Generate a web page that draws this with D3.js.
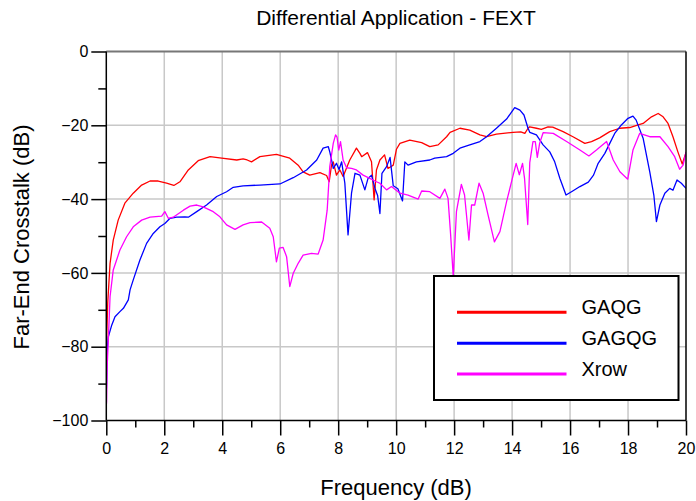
<!DOCTYPE html>
<html>
<head>
<meta charset="utf-8">
<script src="https://cdn.jsdelivr.net/npm/d3@7"></script>
<style>
  html, body { margin: 0; padding: 0; background: #fff; }
  svg { display: block; font-family: "Liberation Sans", Arial, sans-serif; }
</style>
</head>
<body>
<svg id="chart" width="696" height="501"></svg>
<script>
// [frequency, dB]
const gaqg = [
  [0, -86], [0.02, -76], [0.05, -68], [0.13, -57.4], [0.24, -51.1], [0.41, -45.7], [0.64, -41.1],
  [0.93, -38.4], [1.22, -36.2], [1.51, -35.1], [1.79, -35.1], [2.08, -35.7], [2.33, -36.3],
  [2.54, -35.3], [2.83, -32.1], [3.17, -29.6], [3.58, -28.5], [3.98, -28.9], [4.5, -29.4],
  [4.72, -29.1], [4.86, -29.4], [5.01, -29.9], [5.3, -28.5], [5.87, -27.9], [6.33, -28.9],
  [6.62, -30.8], [6.79, -32.6], [7.02, -33.5], [7.37, -32.8], [7.6, -33.6], [7.69, -35.3],
  [7.77, -30.8], [7.83, -29.9], [7.94, -33.5], [8.06, -32.1], [8.17, -33.9], [8.4, -29.4],
  [8.63, -26.2], [8.75, -27.6], [8.81, -28.5], [9.01, -27.4], [9.15, -29.9], [9.24, -40.2],
  [9.32, -32.1], [9.44, -29.4], [9.6, -28], [9.72, -31.7], [9.9, -30.8], [10.01, -26.5],
  [10.13, -24.9], [10.47, -24], [10.88, -24.7], [11.16, -25.8], [11.45, -25.3], [11.74, -23.1],
  [11.86, -21.9], [12.2, -20.8], [12.54, -21.3], [12.89, -22.6], [13.12, -23.1], [13.46, -22.4],
  [14.03, -21.9], [14.3, -21.8], [14.44, -22.2], [14.55, -20.8], [14.61, -20.4], [14.84, -20.8],
  [15.01, -21.1], [15.24, -20.4], [15.4, -20.5], [15.76, -21.7], [16.1, -23.1], [16.51, -24.9],
  [16.74, -24.4], [17.02, -23.4], [17.37, -21.7], [17.71, -20.8], [18.06, -20.6], [18.35, -19.9],
  [18.52, -19.5], [18.81, -17.7], [19.04, -16.8], [19.21, -17.7], [19.38, -19.5], [19.55, -23.1],
  [19.72, -27.2], [19.87, -30.5], [20, -27.4]
];

const gagqg = [
  [0, -92], [0.01, -89.9], [0.03, -80.9], [0.07, -77.3], [0.19, -74.1], [0.3, -71.9], [0.47, -70.5],
  [0.59, -69.6], [0.76, -67.3], [0.82, -64.6], [0.93, -61.9], [1.16, -56.5], [1.39, -52],
  [1.62, -49.3], [1.85, -47.5], [2.02, -46.6], [2.2, -45.2], [2.43, -44.9], [2.71, -44.8],
  [2.83, -44.9], [3.12, -43.4], [3.46, -41.6], [3.81, -39.3], [4.15, -38], [4.38, -36.8],
  [4.72, -36.4], [5.3, -36.2], [5.99, -35.9], [6.45, -34.2], [6.91, -32.1], [7.26, -29.4],
  [7.48, -26.2], [7.66, -25.8], [7.71, -27.2], [7.77, -29.4], [7.83, -31.7], [7.94, -30.3],
  [8.03, -32], [8.12, -29.9], [8.23, -35.7], [8.34, -49.7], [8.46, -38.4], [8.58, -33],
  [8.75, -33.5], [8.92, -37.5], [9.03, -34.4], [9.15, -33.5], [9.27, -37.1], [9.36, -39],
  [9.44, -43.9], [9.51, -33], [9.67, -31.2], [9.79, -28.7], [9.9, -36.4], [10.06, -37.2],
  [10.22, -40.5], [10.3, -29.9], [10.41, -30.8], [10.7, -29.9], [11.16, -29.4], [11.33, -28.9],
  [11.74, -28.5], [11.97, -27.6], [12.2, -26.2], [12.54, -25.3], [12.89, -24.4], [13.12, -23.1],
  [13.46, -20.8], [13.81, -18.3], [14.09, -15.2], [14.27, -15.9], [14.41, -17.2], [14.55, -20.8],
  [14.61, -21.9], [14.84, -22.6], [15.07, -25.3], [15.3, -27.2], [15.47, -29.9], [15.65, -34.4],
  [15.86, -38.9], [16.05, -38], [16.34, -36.6], [16.63, -35.4], [16.81, -33.5], [16.97, -30.3],
  [17.2, -27.6], [17.37, -24.9], [17.54, -22.2], [17.77, -19.9], [18.0, -18.1], [18.17, -17.5],
  [18.28, -18.6], [18.52, -23.5], [18.75, -32.6], [18.89, -38.9], [18.98, -46.1], [19.1, -41.6],
  [19.27, -38.4], [19.44, -37.1], [19.55, -37.6], [19.69, -34.8], [19.84, -35.7], [20, -37.1]
];

const xrow = [
  [0, -96], [0.01, -94.9], [0.03, -85.4], [0.07, -78.2], [0.13, -66.4], [0.24, -59.2],
  [0.47, -53.8], [0.7, -50.2], [0.93, -47.5], [1.22, -45.7], [1.51, -44.9], [1.91, -44.6],
  [2.02, -43.4], [2.14, -45.2], [2.31, -44.9], [2.66, -43], [2.89, -41.9], [3.12, -41.6],
  [3.34, -42.1], [3.69, -43.4], [3.92, -44.8], [4.15, -47], [4.44, -48.2], [4.72, -47],
  [4.96, -46.4], [5.36, -46.2], [5.64, -47.9], [5.76, -50.2], [5.87, -57], [5.97, -53.3],
  [6.1, -53.1], [6.22, -55.6], [6.33, -63.7], [6.45, -60.1], [6.62, -57.4], [6.79, -55.2],
  [7.08, -54.7], [7.31, -54.9], [7.48, -51.1], [7.62, -43], [7.71, -31.2], [7.83, -24.9],
  [7.91, -22.6], [7.96, -23.2], [8.02, -26.7], [8.08, -24.4], [8.17, -29.4], [8.29, -31.5],
  [8.46, -31.7], [8.63, -32.1], [8.86, -33.5], [9.09, -34.4], [9.32, -35.3], [9.44, -35.7],
  [9.67, -37.5], [9.84, -36.6], [10.13, -38.4], [10.41, -38.9], [10.76, -40], [10.88, -37.8],
  [11.16, -38], [11.51, -39.8], [11.68, -37.3], [11.79, -39.8], [11.88, -49.7], [11.97, -61],
  [12.08, -43.4], [12.25, -36], [12.36, -38.9], [12.51, -51.1], [12.6, -41.6], [12.71, -41.6],
  [12.86, -35.7], [13.0, -38.4], [13.17, -44.3], [13.39, -51.6], [13.58, -48.8], [13.81, -40.7],
  [14.03, -33.7], [14.14, -30.3], [14.25, -33.4], [14.36, -30.3], [14.43, -34.4], [14.54, -46.9],
  [14.61, -30.1], [14.72, -24.4], [14.8, -24.4], [14.87, -28.7], [14.95, -24.9], [15.07, -22],
  [15.42, -22.2], [15.88, -24.4], [16.34, -26.7], [16.65, -28.3], [16.91, -26.7], [17.26, -24.4],
  [17.49, -29.4], [17.72, -32.6], [17.99, -34.6], [18.17, -26.7], [18.4, -22.2], [18.75, -23.1],
  [19.1, -23.1], [19.38, -25.8], [19.61, -28.5], [19.78, -31.9], [19.9, -30.8], [20, -27.2]
];

const seriesNames = ["GAQG", "GAGQG", "Xrow"];
const seriesColors = ["#ff0000", "#0000ff", "#ff00ff"];
const seriesData = [gaqg, gagqg, xrow];

const xTicks = [0, 2, 4, 6, 8, 10, 12, 14, 16, 18, 20];
const xMinorTicks = [1, 3, 5, 7, 9, 11, 13, 15, 17, 19];
const yTicks = [0, -20, -40, -60, -80, -100];
const yMinorTicks = [-10, -30, -50, -70, -90];

const svg = d3.select("#chart");

// plot box
const plotL = 106.3, plotR = 686, plotT = 51.5, plotB = 420.5;

const x = d3.scaleLinear().domain([0, 20]).range([plotL, plotR]);
const y = d3.scaleLinear().domain([-100, 0]).range([plotB, plotT]);

// grid
svg.append("g")
  .selectAll("line")
  .data(xTicks.slice(1, -1))
  .join("line")
  .attr("x1", d => x(d)).attr("x2", d => x(d))
  .attr("y1", plotT).attr("y2", plotB)
  .attr("stroke", "#c8c8c8").attr("stroke-width", 1.5);

svg.append("g")
  .selectAll("line")
  .data(yTicks.slice(1, -1))
  .join("line")
  .attr("x1", plotL).attr("x2", plotR)
  .attr("y1", d => y(d)).attr("y2", d => y(d))
  .attr("stroke", "#c8c8c8").attr("stroke-width", 1.5);

// top border is grey
svg.append("line")
  .attr("x1", plotL).attr("x2", plotR)
  .attr("y1", plotT).attr("y2", plotT)
  .attr("stroke", "#777").attr("stroke-width", 2);

// curves
svg.append("clipPath").attr("id", "plotClip")
  .append("rect")
  .attr("x", plotL).attr("y", plotT - 1)
  .attr("width", plotR - plotL).attr("height", plotB - plotT + 1);

const line = d3.line()
  .x(d => x(d[0]))
  .y(d => y(d[1]));

svg.append("g")
  .attr("clip-path", "url(#plotClip)")
  .selectAll("path")
  .data(seriesData)
  .join("path")
  .attr("d", line)
  .attr("fill", "none")
  .attr("stroke", (d, i) => seriesColors[i])
  .attr("stroke-width", 1.3)
  .attr("stroke-linejoin", "round");

// axes
function styleAxis(g) {
  g.select(".domain").remove();
  g.selectAll(".tick line").attr("stroke", "#000").attr("stroke-width", 1.5);
  g.selectAll(".tick text")
    .attr("fill", "#000")
    .style("font-size", "16px")
    .style("font-family", "'Liberation Sans', Arial, sans-serif");
}

svg.append("g")
  .attr("transform", `translate(${plotL},0)`)
  .call(d3.axisLeft(y).tickValues(yTicks).tickSize(15).tickPadding(3).tickFormat(d3.format("d")))
  .call(styleAxis);

svg.append("g")
  .attr("transform", `translate(${plotL},0)`)
  .call(d3.axisLeft(y).tickValues(yMinorTicks).tickSize(8).tickFormat(""))
  .call(styleAxis);

svg.append("g")
  .attr("transform", `translate(0,${plotB})`)
  .call(d3.axisBottom(x).tickValues(xTicks).tickSize(15).tickPadding(7))
  .call(styleAxis);

svg.append("g")
  .attr("transform", `translate(0,${plotB})`)
  .call(d3.axisBottom(x).tickValues(xMinorTicks).tickSize(7).tickFormat(""))
  .call(styleAxis);

// frame lines
svg.append("line")
  .attr("x1", plotL).attr("x2", plotL).attr("y1", plotT).attr("y2", plotB)
  .attr("stroke", "#000").attr("stroke-width", 1.5);
svg.append("line")
  .attr("x1", plotR).attr("x2", plotR).attr("y1", plotT).attr("y2", plotB)
  .attr("stroke", "#000").attr("stroke-width", 1.5);
svg.append("line")
  .attr("x1", plotL).attr("x2", plotR).attr("y1", plotB).attr("y2", plotB)
  .attr("stroke", "#000").attr("stroke-width", 1.5);

// titles
svg.append("text")
  .attr("x", 396).attr("y", 25)
  .attr("text-anchor", "middle")
  .style("font-size", "21px")
  .text("Differential Application - FEXT");

svg.append("text")
  .attr("x", 396).attr("y", 495)
  .attr("text-anchor", "middle")
  .style("font-size", "22px")
  .text("Frequency (dB)");

svg.append("text")
  .attr("transform", "rotate(-90)")
  .attr("x", -237).attr("y", 29)
  .attr("text-anchor", "middle")
  .style("font-size", "22px")
  .text("Far-End Crosstalk (dB)");

// legend
const legend = svg.append("g");
legend.append("rect")
  .attr("x", 434).attr("y", 276)
  .attr("width", 244.5).attr("height", 124)
  .attr("fill", "#fff")
  .attr("stroke", "#000").attr("stroke-width", 2);

const rowY = [312.3, 343.3, 374];
seriesNames.forEach((name, i) => {
  legend.append("line")
    .attr("x1", 457).attr("x2", 566.5)
    .attr("y1", rowY[i]).attr("y2", rowY[i])
    .attr("stroke", seriesColors[i]).attr("stroke-width", 3);
  legend.append("text")
    .attr("x", 581.5).attr("y", rowY[i] + 1.5)
    .style("font-size", "20px")
    .text(name);
});
</script>
</body>
</html>
